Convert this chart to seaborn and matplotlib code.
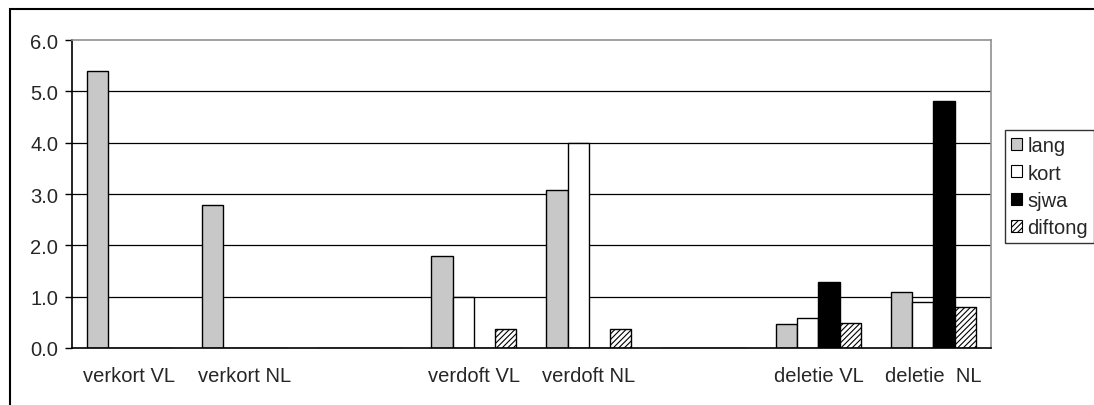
import pandas as pd
import seaborn as sns
import matplotlib.pyplot as plt
from matplotlib.patches import Patch, Rectangle

# categories (blank slots are empty groups in the original chart)
categories = ["verkort VL", "verkort NL", "", "verdoft VL", "verdoft NL", " ", "deletie VL", "deletie NL"]
tick_labels = ["verkort VL", "verkort NL", "", "verdoft VL", "verdoft NL", "", "deletie VL", "deletie  NL"]
series = ["lang", "kort", "sjwa", "diftong"]

lang = [5.4, 2.78, 0, 1.8, 3.08, 0, 0.47, 1.1]
kort = [0, 0, 0, 1.0, 4.0, 0, 0.58, 0.89]
sjwa = [0, 0, 0, 0, 0, 0, 1.28, 4.81]
diftong = [0, 0, 0, 0.37, 0.37, 0, 0.48, 0.79]

rows = []
for name, vals in zip(series, [lang, kort, sjwa, diftong]):
    for cat, v in zip(categories, vals):
        rows.append({"cat": cat, "serie": name, "value": v})
df = pd.DataFrame(rows)

sns.set_style("white")
plt.rcParams['font.family'] = ['Liberation Sans', 'DejaVu Sans']
plt.rcParams['hatch.color'] = '#808080'
plt.rcParams['hatch.linewidth'] = 0.8

colors = ["#c8c8c8", "white", "black", "white"]
fs = 14.5

fig = plt.figure(figsize=(10.94, 4.06), dpi=100)
ax = fig.add_axes([0.0658, 0.1404, 0.8398, 0.7586])

sns.barplot(data=df, x="cat", y="value", hue="serie", order=categories, hue_order=series,
            palette=colors, width=0.74, edgecolor="black", linewidth=1, ax=ax, legend=False)

for p in ax.containers[3]:
    p.set_hatch("//////")

ax.set_ylim(0, 6)
ax.set_xlim(-0.5, len(categories) - 0.5)
ax.set_yticks([0, 1, 2, 3, 4, 5, 6])
ax.set_yticklabels(["0.0", "1.0", "2.0", "3.0", "4.0", "5.0", "6.0"], fontsize=fs)
ax.set_xticks(range(len(categories)))
ax.set_xticklabels(tick_labels, fontsize=fs)
ax.tick_params(axis="x", which="major", length=0, pad=13)
ax.set_xticks([i - 0.5 for i in range(len(categories) + 1)], minor=True)
ax.tick_params(axis="x", which="minor", length=5, width=1, color="black", direction="out")
ax.tick_params(axis="y", length=5, width=1, color="black", direction="out", left=True, pad=5)
ax.set_xlabel("")
ax.set_ylabel("")

for y in [1, 2, 3, 4, 5]:
    ax.axhline(y, color="black", linewidth=0.9, zorder=0)
ax.set_axisbelow(True)

for s in ["left", "bottom"]:
    ax.spines[s].set_color("black")
    ax.spines[s].set_linewidth(1.2)
for s in ["top", "right"]:
    ax.spines[s].set_color("#909090")
    ax.spines[s].set_linewidth(1.2)

handles = [Patch(facecolor=c, edgecolor="black", linewidth=0.8) for c in colors]
handles[3].set_hatch("//////")
leg = fig.legend(handles, series, loc="upper left", bbox_to_anchor=(1005 / 1094, 1 - 131 / 406),
                 fontsize=fs, frameon=True, fancybox=False, handlelength=0.55, handleheight=0.55,
                 handletextpad=0.25, borderpad=0.3, borderaxespad=0, labelspacing=0.42)
leg.get_frame().set_edgecolor("black")
leg.get_frame().set_linewidth(1)

# outer chart frame (cropped on the right and bottom)
fig.patches.append(Rectangle((10 / 1094, -0.2), 1.2, 1.2 - 10 / 406, transform=fig.transFigure,
                             fill=False, edgecolor="black", linewidth=1.5))

plt.savefig("out.png", dpi=100)
